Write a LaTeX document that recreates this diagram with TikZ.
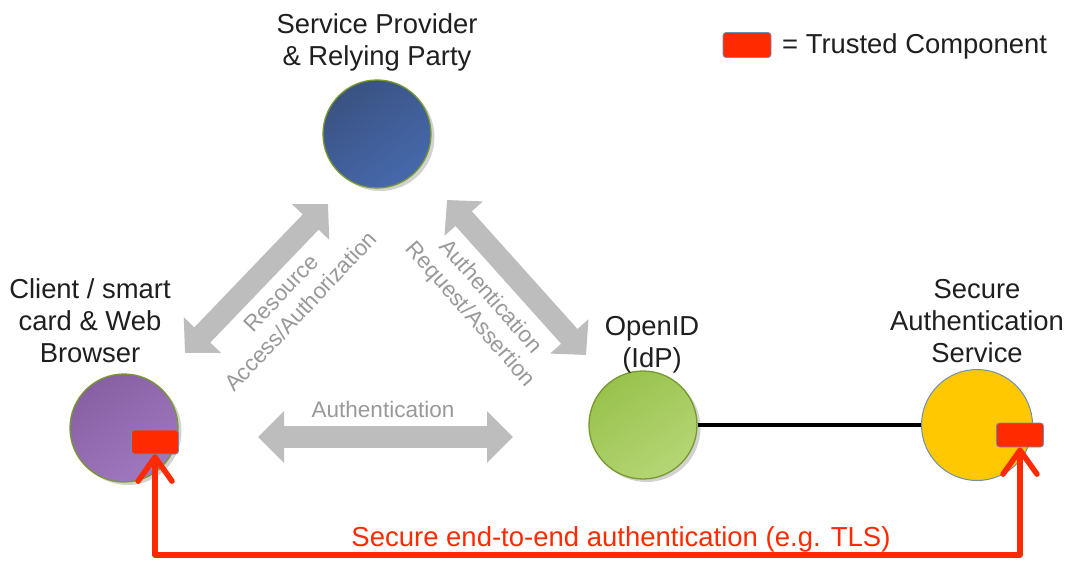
\documentclass[tikz,border=0pt]{standalone}
\usepackage{fontspec}
\setmainfont{Liberation Sans}
\usetikzlibrary{arrows.meta,shadows}

\definecolor{spblueA}{HTML}{3A5282}
\definecolor{spblueB}{HTML}{4669AC}
\definecolor{clpurA}{HTML}{8760A3}
\definecolor{clpurB}{HTML}{A078C0}
\definecolor{idgreenA}{HTML}{98C24C}
\definecolor{idgreenB}{HTML}{B6D676}
\definecolor{sayellow}{HTML}{FFC800}
\definecolor{rimgreen}{HTML}{76982E}
\definecolor{rimblue}{HTML}{6E8FB2}
\definecolor{trustred}{HTML}{FF2A00}
\definecolor{flowgray}{HTML}{BDBDBD}
\definecolor{labelgray}{HTML}{999999}

\newcommand{\bigtxt}{\fontsize{27.4}{32}\selectfont}
\newcommand{\smalltxt}{\fontsize{22.5}{27}\selectfont}

\begin{document}
\begin{tikzpicture}[x=1pt,y=-1pt,
  party/.style={circle, minimum size=108pt, inner sep=0pt, line width=1.3pt},
  withshadow/.style={drop shadow={shadow xshift=3.5pt, shadow yshift=-3pt, fill=black!22, opacity=.8}},
  caption/.style={font=\bigtxt, align=center, text=black!88, inner sep=0pt},
  flowlabel/.style={font=\smalltxt, align=center, text=labelgray, inner sep=0pt},
  trusted/.style={draw=rimblue, line width=0.8pt, fill=trustred, rounded corners=3pt,
    minimum width=47pt, minimum height=24pt, inner sep=0pt},
  flow/.style={draw=flowgray, line width=22pt,
    arrows={Triangle[length=25pt,width=50pt]-Triangle[length=25pt,width=50pt]}},
  flowthin/.style={draw=flowgray, line width=22pt,
    arrows={Triangle[length=26pt,width=50pt]-Triangle[length=26pt,width=50pt]}},
  securelink/.style={draw=trustred, line width=5.5pt, line join=round,
    arrows={Straight Barb[length=24pt,width=34pt,round]-Straight Barb[length=24pt,width=34pt,round]}}
]
\useasboundingbox[fill=white] (0,0) rectangle (1067,561);

% the four parties
\node[party, withshadow, draw=rimgreen, top color=spblueA, bottom color=spblueB, shading angle=35] (sp) at (377,134) {};
\node[party, withshadow, draw=rimgreen, top color=clpurA, bottom color=clpurB, shading angle=35] (cl) at (124,428) {};
\node[party, withshadow, draw=rimgreen, top color=idgreenA, bottom color=idgreenB, shading angle=35] (idp) at (643,425) {};
\node[party, draw=rimblue, line width=1pt, fill=sayellow, minimum size=111pt] (sas) at (977,425) {};

% captions (anchored at the baseline of their last line)
\node[caption, anchor=base] (spcap) at (377,66) {Service Provider\\\& Relying Party};
\node[caption, anchor=base] (clcap) at (90,362) {Client / smart\\card \& Web\\Browser};
\node[caption, anchor=base] (idcap) at (652,367) {OpenID\\(IdP)};
\node[caption, anchor=base] (sascap) at (977,362) {Secure\\Authentication\\Service};

% message flows
\coordinate (f1a) at (185,353);
\coordinate (f1b) at (328,204);
\coordinate (f2a) at (447,200);
\coordinate (f2b) at (586,355);
\coordinate (f3a) at (258,437);
\coordinate (f3b) at (513,437);
\draw[flow] (f1a) -- (f1b);
\draw[flow] (f2a) -- (f2b);
\draw[flowthin] (f3a) -- (f3b);

\node[flowlabel, rotate=46.7] (lres) at (291,302) {Resource\\Access/Authorization};
\node[flowlabel, rotate=-48.8] (lreq) at (480,306) {Authentication\\Request/Assertion};
\node[flowlabel, anchor=base] (lauth) at (383,417) {Authentication};

% IdP to authentication service
\draw[line width=3.2pt] (idp.east) -- (sas.west |- idp.east);

% trusted components
\node[trusted] (tc1) at (155,442) {};
\node[trusted] (tc2) at (1020,435) {};

% end-to-end channel
\coordinate (chan) at (600,555);
\draw[securelink] (tc1.south) |- (chan) -| (tc2.south);
\node[font=\fontsize{27.5}{32}\selectfont, text=trustred, anchor=base, inner sep=0pt] (chancap) at (621,546)
  {Secure end-to-end authentication (e.g. TLS)};

% legend
\node[trusted, minimum width=48pt, minimum height=25pt] (legbox) at (747,45) {};
\node[caption, anchor=base west] (legtxt) at (782,54) {= Trusted Component};
\end{tikzpicture}
\end{document}
